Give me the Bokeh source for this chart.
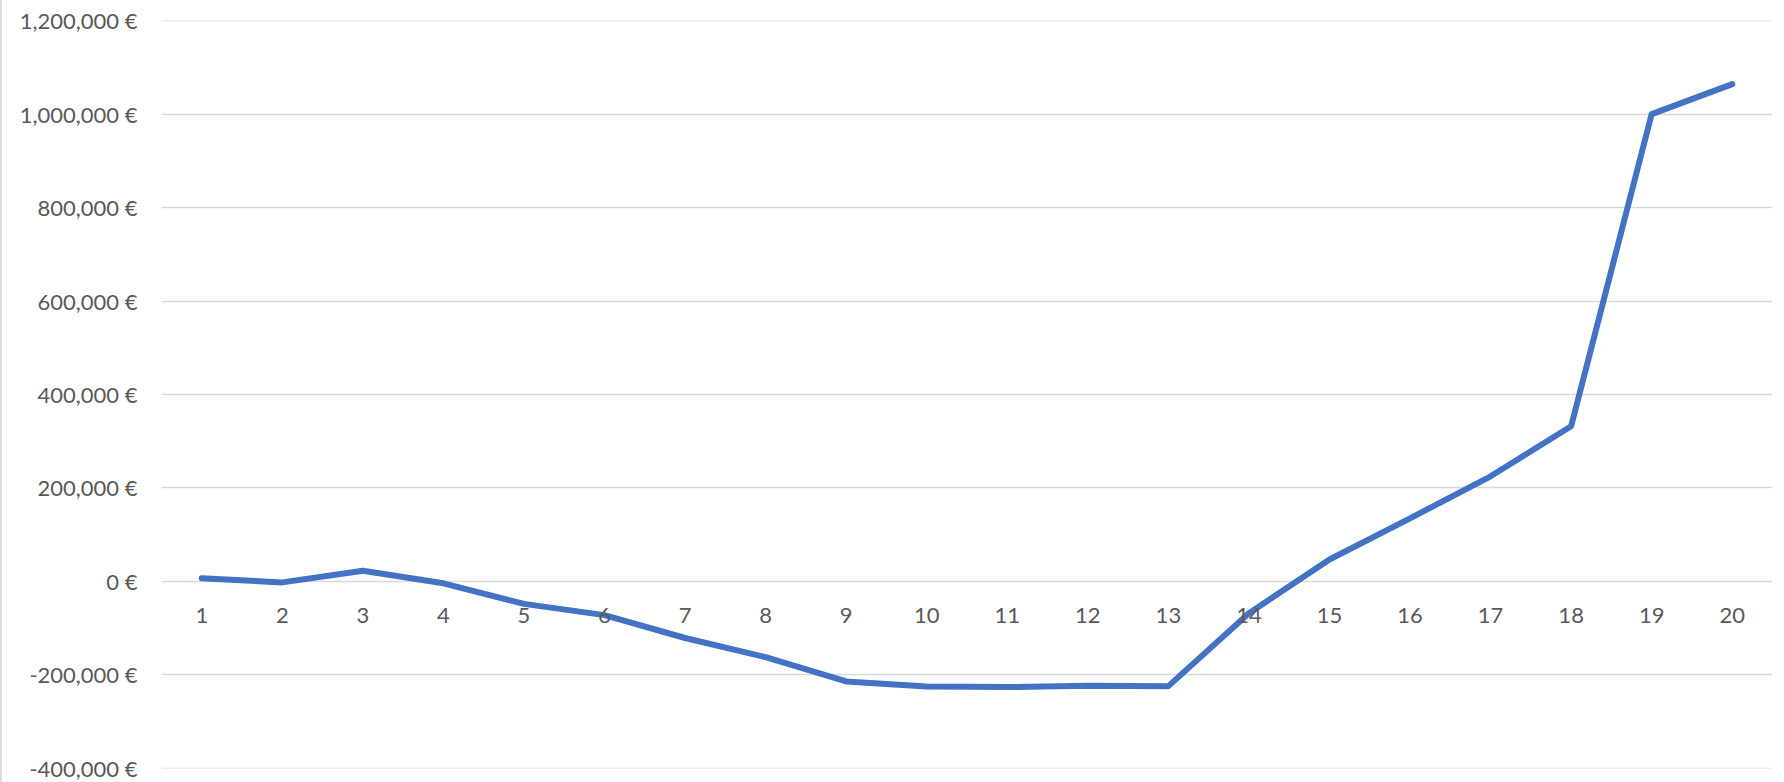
from bokeh.plotting import figure
from bokeh.models import Range1d, FixedTicker, Div
from bokeh.layouts import row
from bokeh.core.properties import value
from bokeh.embed import file_html
from bokeh.resources import INLINE

periods = list(range(1, 21))
period_labels = [str(v) for v in periods]
values = [7000, -2000, 23000, -4000, -48000, -72000, -121000, -162000, -214000, -225000,
          -226000, -223000, -224000, -68000, 47000, 135000, 225000, 332000, 1000000, 1064000]
y_ticks = [-400000, -200000, 0, 200000, 400000, 600000, 800000, 1000000, 1200000]
y_labels = {v: f"{v:,} €" for v in y_ticks}

FONT = "Lato"
LABEL_COLOR = "#595959"
GRID = "#D9D9D9"

# tiny padding so the outermost gridlines (-400k and 1.2M) are still drawn
p = figure(width=1782, height=782, output_backend="svg", toolbar_location=None,
           x_range=Range1d(0.5, 20.5), y_range=Range1d(-400200, 1200200),
           min_border_left=159, min_border_right=12, min_border_top=20, min_border_bottom=14)
p.outline_line_color = None
p.background_fill_color = "white"
p.border_fill_color = "white"

p.line(periods, values, line_color="#4472C4", line_width=6, line_cap="round", line_join="round")

# category labels sit just under the zero line, like the original's crossing axis
p.text(x=periods, y=[0] * len(periods), text=period_labels, y_offset=34,
       text_align="center", text_baseline="middle", text_font=value(FONT),
       text_font_size="22px", text_color=LABEL_COLOR)

p.yaxis.ticker = FixedTicker(ticks=y_ticks)
p.yaxis.major_label_overrides = y_labels
p.yaxis.axis_line_color = None
p.yaxis.major_tick_line_color = None
p.yaxis.major_tick_out = 0
p.yaxis.major_tick_in = 0
p.yaxis.minor_tick_line_color = None
p.yaxis.minor_tick_out = 0
p.yaxis.major_label_standoff = 24
p.yaxis.major_label_text_font = FONT
p.yaxis.major_label_text_font_size = "22px"
p.yaxis.major_label_text_color = LABEL_COLOR

p.xaxis.visible = False
p.xgrid.grid_line_color = None
p.ygrid.ticker = FixedTicker(ticks=y_ticks)
p.ygrid.grid_line_color = GRID
p.ygrid.grid_line_width = 1.5

edge = Div(width=2, height=782, margin=0, styles={"background-color": "#DDDDDD"})
layout = row(edge, p, spacing=0)

open("out.html", "w").write(file_html(layout, INLINE))
